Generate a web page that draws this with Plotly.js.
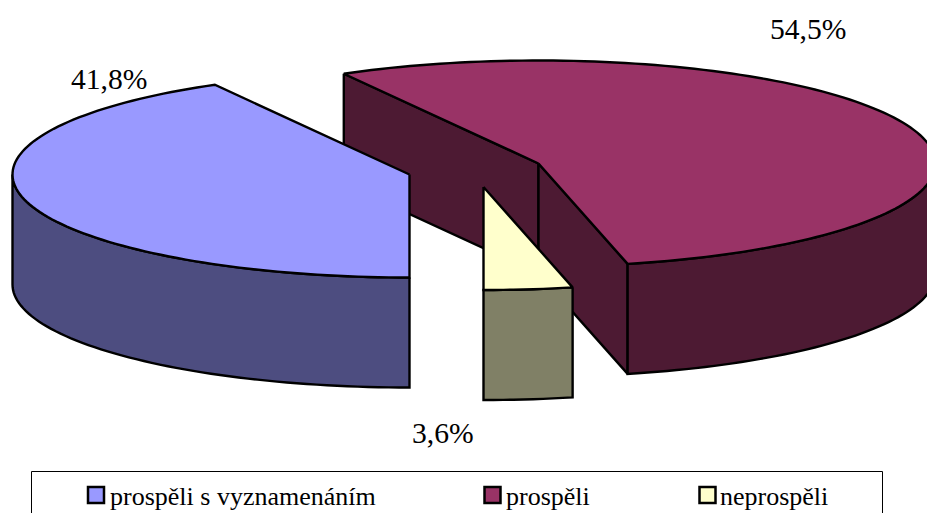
<!DOCTYPE html>
<html>
<head>
<meta charset="utf-8">
<script src="https://cdn.plot.ly/plotly-3.0.1.min.js"></script>
<style>html,body{margin:0;padding:0;background:#fff;overflow:hidden}</style>
</head>
<body>
<div id="chart" style="width:927px;height:513px"></div>
<script>
const categories = ['prospěli s vyznamenáním', 'prospěli', 'neprospěli'];
const values = [41.8, 54.5, 3.6];
const topColors = ['#9999FF', '#993366', '#FFFFCC'];
const wallColors = ['#4D4D80', '#4D1A33', '#808066'];
const apexX = [409.5, 538.5, 483.5];
const apexY = [174.5, 163.5, 187];
const labelX = [109, 808, 443];
const labelY = [79, 29, 433];
const legendX = [96, 492.5, 707.5];
const legendTextX = [110, 506, 720];
const rx = 397, ry = 103, depth = 110, startAngle = 180;
const W = 927, H = 513;
const total = values.reduce((a, b) => a + b, 0);

function pt(i, deg, drop) {
  const t = deg * Math.PI / 180;
  return [apexX[i] + rx * Math.sin(t), apexY[i] - ry * Math.cos(t) + (drop || 0)];
}
function arc(i, a0, a1, drop) {
  const out = [], n = Math.max(2, Math.ceil(Math.abs(a1 - a0) / 1.5));
  for (let k = 0; k <= n; k++) out.push(pt(i, a0 + (a1 - a0) * k / n, drop));
  return out;
}
function face(points, color, name) {
  const closed = points.concat([points[0]]);
  return {
    type: 'scatter', mode: 'lines', name: name,
    x: closed.map(p => p[0]), y: closed.map(p => p[1]),
    fill: 'toself', fillcolor: color,
    line: {color: '#000', width: 2.4, simplify: false},
    hoverinfo: 'name', showlegend: false
  };
}

const angles = [];
let acc = startAngle;
values.forEach(v => { const a0 = acc; acc += v / total * 360; angles.push([a0, acc]); });

function apex(i, drop) { return [apexX[i], apexY[i] + (drop || 0)]; }

function sliceFaces(i) {
  const [a0, a1] = angles[i], out = [];
  const name = categories[i];
  const p0 = pt(i, a0), p1 = pt(i, a1);
  if (p0[0] < apexX[i] && p0[1] < apexY[i]) {
    out.push(face([p0, apex(i), apex(i, depth), pt(i, a0, depth)], wallColors[i], name));
  }
  if (p1[0] > apexX[i] && a1 - a0 > 90) {
    out.push(face([apex(i), p1, pt(i, a1, depth), apex(i, depth)], wallColors[i], name));
  }
  for (const shift of [0, 360]) {
    const r0 = Math.max(a0, 90 + shift), r1 = Math.min(a1, 270 + shift);
    if (r1 > r0) {
      out.push(face(arc(i, r0, r1).concat(arc(i, r1, r0, depth)), wallColors[i], name));
    }
  }
  out.push(face([apex(i)].concat(arc(i, a0, a1)), topColors[i], name));
  return out;
}

const traces = [].concat(sliceFaces(1), sliceFaces(0), sliceFaces(2));

categories.forEach((c, i) => {
  traces.push({
    type: 'scatter', mode: 'markers', x: [legendX[i]], y: [495], name: c,
    marker: {symbol: 'square', size: 16, color: topColors[i], line: {color: '#000', width: 2.5}},
    hoverinfo: 'name', showlegend: false
  });
});

const font = 'Liberation Serif, Times New Roman, serif';
const annotations = values.map((v, i) => ({
  x: labelX[i], y: labelY[i], xref: 'x', yref: 'y', showarrow: false,
  xanchor: 'center', yanchor: 'middle',
  text: v.toFixed(1).replace('.', ',') + '%',
  font: {family: font, size: 29.6, color: '#000'}
})).concat(categories.map((c, i) => ({
  x: legendTextX[i], y: 496, xref: 'x', yref: 'y', showarrow: false,
  xanchor: 'left', yanchor: 'middle', xshift: -2,
  text: c, font: {family: font, size: 26, color: '#000'}
})));

Plotly.newPlot('chart', traces, {
  width: W, height: H,
  margin: {l: 0, r: 0, t: 0, b: 0},
  paper_bgcolor: '#fff', plot_bgcolor: '#fff',
  showlegend: false,
  xaxis: {range: [0, W], visible: false, fixedrange: true},
  yaxis: {range: [H, 0], visible: false, fixedrange: true},
  annotations: annotations,
  shapes: [{type: 'rect', xref: 'x', yref: 'y', x0: 31.5, x1: 882.5, y0: 471.5, y1: 540,
            line: {color: '#000', width: 1}, fillcolor: 'rgba(0,0,0,0)', layer: 'below'}]
}, {displayModeBar: false, staticPlot: true});
</script>
</body>
</html>
